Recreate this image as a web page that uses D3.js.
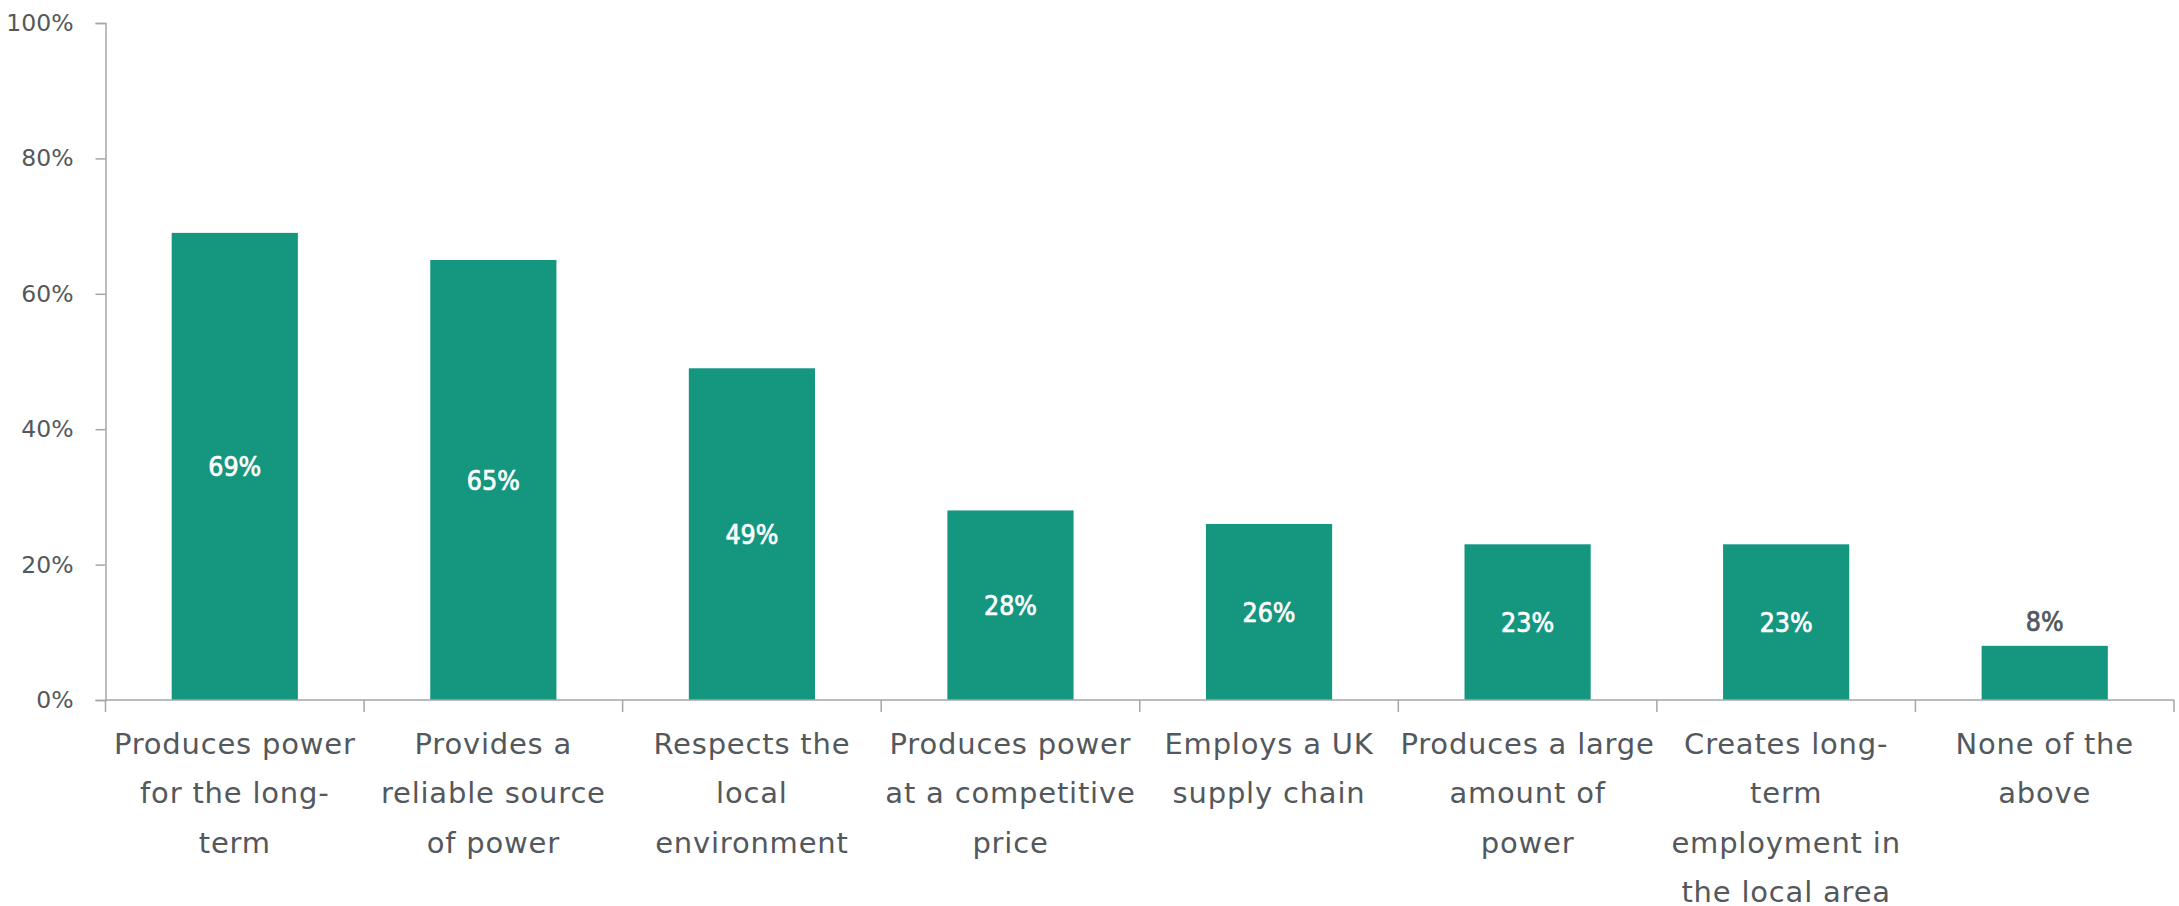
<!DOCTYPE html>
<html>
<head>
<meta charset="utf-8">
<script src="https://cdn.jsdelivr.net/npm/d3@7"></script>
<style>
  body { margin: 0; background: #fff; }
  svg { display: block; }
  text { font-family: "DejaVu Sans", sans-serif; }
</style>
</head>
<body>
<svg id="chart"></svg>
<script>
// Survey answers, one bar per category (line breaks as in the original labels)
const categories = [
  "Produces power\nfor the long-\nterm",
  "Provides a\nreliable source\nof power",
  "Respects the\nlocal\nenvironment",
  "Produces power\nat a competitive\nprice",
  "Employs a UK\nsupply chain",
  "Produces a large\namount of\npower",
  "Creates long-\nterm\nemployment in\nthe local area",
  "None of the\nabove"
];
const values = [69, 65, 49, 28, 26, 23, 23, 8];
const yTicks = [0, 20, 40, 60, 80, 100];

const width = 2179, height = 906;
const margin = {top: 23, right: 5, bottom: 206, left: 105.5};
const barColor = "#15967f";
const textColor = "#53585c";
const axisColor = "#a6a6a6";

const svg = d3.select("#chart").attr("width", width).attr("height", height);

const x = d3.scaleBand()
  .domain(d3.range(categories.length))
  .range([margin.left, width - margin.right])
  .paddingInner(0.512)
  .paddingOuter(0.256);

const y = d3.scaleLinear()
  .domain([0, 100])
  .range([height - margin.bottom, margin.top]);

// y axis
const yAxis = svg.append("g")
  .attr("transform", "translate(" + margin.left + ",0)")
  .call(d3.axisLeft(y).tickValues(yTicks).tickSize(10).tickPadding(22)
    .tickFormat(d => d + "%"));
yAxis.select(".domain").attr("stroke", axisColor).attr("stroke-width", 1.5);
yAxis.selectAll(".tick line").attr("stroke", axisColor).attr("stroke-width", 1.5);
yAxis.selectAll(".tick text")
  .attr("fill", textColor)
  .style("font-size", "23.5px");

// bars
svg.append("g").selectAll("rect")
  .data(values)
  .enter()
  .append("rect")
  .attr("x", (d, i) => x(i))
  .attr("width", x.bandwidth())
  .attr("y", d => y(d))
  .attr("height", d => y(0) - y(d))
  .attr("fill", barColor);

// x axis line and category boundary ticks
const base = y(0);
const half = (x.step() - x.bandwidth()) / 2;
const bounds = d3.range(categories.length + 1).map(i =>
  i < categories.length ? x(i) - half : x(i - 1) + x.bandwidth() + half);

svg.append("line")
  .attr("x1", margin.left).attr("x2", width - margin.right)
  .attr("y1", base).attr("y2", base)
  .attr("stroke", axisColor).attr("stroke-width", 1.5);

svg.append("g").selectAll("line")
  .data(bounds)
  .enter()
  .append("line")
  .attr("x1", d => d).attr("x2", d => d)
  .attr("y1", base).attr("y2", base + 12)
  .attr("stroke", axisColor).attr("stroke-width", 1.5);

// data labels: centred in the bar, above it when the bar is short
svg.append("g").selectAll("text")
  .data(values)
  .enter()
  .append("text")
  .attr("x", (d, i) => x(i) + x.bandwidth() / 2)
  .attr("y", d => d < 10 ? y(d) - 24 : (y(d) + y(0)) / 2)
  .attr("dy", "0.36em")
  .attr("text-anchor", "middle")
  .attr("fill", d => d < 10 ? textColor : "#fff")
  .attr("stroke", d => d < 10 ? textColor : "#fff")
  .attr("stroke-width", 0.7)
  .style("font-family", "'DejaVu Sans Condensed', 'DejaVu Sans', sans-serif")
  .style("font-size", "26.5px")
  .text(d => d + "%");

// category labels
const labels = svg.append("g").selectAll("text")
  .data(categories)
  .enter()
  .append("text")
  .attr("x", (d, i) => x(i) + x.bandwidth() / 2)
  .attr("y", base + 54)
  .attr("text-anchor", "middle")
  .attr("fill", textColor)
  .style("font-size", "29px")
  .style("letter-spacing", "0.8px");

labels.each(function (d) {
  const el = d3.select(this);
  d.split("\n").forEach((line, k) => {
    el.append("tspan")
      .attr("x", el.attr("x"))
      .attr("dy", k === 0 ? 0 : 49.3)
      .text(line);
  });
});
</script>
</body>
</html>
